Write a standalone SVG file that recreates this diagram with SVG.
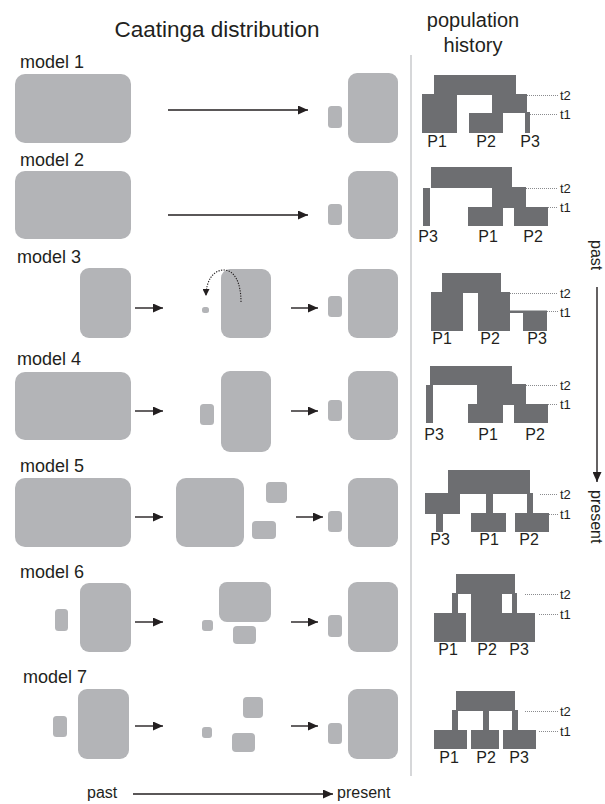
<svg xmlns="http://www.w3.org/2000/svg" width="605" height="804" viewBox="0 0 605 804">
<style>
text{font-family:"Liberation Sans",Arial,sans-serif;fill:#231f20}
.title{font-size:22.5px}
.lbl{font-size:18px}
.p{font-size:16px;text-anchor:middle}
.t{font-size:13px;dominant-baseline:central}
.big{fill:#b3b4b7}
.tr{fill:#6d6e71}
.ar{stroke:#231f20;stroke-width:1.4;fill:none}
.dot{stroke:#8a8b8e;stroke-width:1;stroke-dasharray:1 1;fill:none}
</style>
<defs>
<marker id="ah" markerWidth="10" markerHeight="9" refX="10" refY="4.5" orient="auto" markerUnits="userSpaceOnUse">
<path d="M0,0 L10,4.5 L0,9 Z" fill="#231f20"/>
</marker>
<marker id="ahs" markerWidth="7" markerHeight="7" refX="3.5" refY="7" orient="0" markerUnits="userSpaceOnUse">
<path d="M0,0 L7,0 L3.5,7 Z" fill="#231f20"/>
</marker>
</defs>

<text class="title" x="217" y="37" text-anchor="middle">Caatinga distribution</text>
<text class="title" x="473" y="27" text-anchor="middle" style="font-size:20px">population</text>
<text class="title" x="473" y="52" text-anchor="middle" style="font-size:20px">history</text>
<line x1="411" y1="55" x2="411" y2="776" stroke="#c9cacc" stroke-width="1.5"/>

<!-- model 1 -->
<g id="model1">
<text class="lbl" x="20" y="68">model 1</text>
<rect class="big" x="15" y="74" width="116" height="69" rx="10"/>
<rect class="big" x="328" y="106" width="14" height="22" rx="3.5"/>
<rect class="big" x="348" y="73" width="50" height="70" rx="9"/>
</g>
<!-- model 2 -->
<g id="model2">
<text class="lbl" x="20" y="166">model 2</text>
<rect class="big" x="15" y="171" width="116" height="68" rx="10"/>
<rect class="big" x="328" y="204" width="14" height="21" rx="3.5"/>
<rect class="big" x="348" y="171" width="50" height="68" rx="9"/>
</g>
<!-- model 3 -->
<g id="model3">
<text class="lbl" x="17" y="263">model 3</text>
<rect class="big" x="80" y="268" width="51" height="70" rx="9"/>
<rect class="big" x="202" y="307" width="7" height="6" rx="2.5"/>
<rect class="big" x="221" y="269" width="50" height="69" rx="9"/>
<rect class="big" x="328" y="296" width="14" height="21" rx="3.5"/>
<rect class="big" x="348" y="269" width="50" height="69" rx="9"/>
<path d="M241,302 C241,282 234,270 224,270 C213,270 206,281 206,296" stroke="#231f20" stroke-width="1.1" stroke-dasharray="1.3 1.3" fill="none" marker-end="url(#ahs)"/>
</g>
<!-- model 4 -->
<g id="model4">
<text class="lbl" x="17" y="365">model 4</text>
<rect class="big" x="15" y="372" width="116" height="68" rx="10"/>
<rect class="big" x="200" y="404" width="14" height="21" rx="3.5"/>
<rect class="big" x="221" y="371" width="50" height="81" rx="9"/>
<rect class="big" x="328" y="400" width="14" height="21" rx="3.5"/>
<rect class="big" x="348" y="371" width="50" height="69" rx="9"/>
</g>
<!-- model 5 -->
<g id="model5">
<text class="lbl" x="20" y="472">model 5</text>
<rect class="big" x="15" y="478" width="116" height="69" rx="10"/>
<rect class="big" x="176" y="478" width="68" height="69" rx="10"/>
<rect class="big" x="266" y="482" width="21" height="21" rx="4"/>
<rect class="big" x="252" y="521" width="24" height="18" rx="4"/>
<rect class="big" x="328" y="511" width="14" height="21" rx="3.5"/>
<rect class="big" x="348" y="478" width="50" height="69" rx="9"/>
</g>
<!-- model 6 -->
<g id="model6">
<text class="lbl" x="20" y="578">model 6</text>
<rect class="big" x="55" y="609" width="13" height="22" rx="3.5"/>
<rect class="big" x="80" y="583" width="51" height="69" rx="9"/>
<rect class="big" x="202" y="620" width="11" height="11" rx="3"/>
<rect class="big" x="219" y="582" width="52" height="40" rx="8"/>
<rect class="big" x="233" y="626" width="23" height="18" rx="4"/>
<rect class="big" x="328" y="615" width="14" height="22" rx="3.5"/>
<rect class="big" x="348" y="582" width="50" height="70" rx="9"/>
</g>
<!-- model 7 -->
<g id="model7">
<text class="lbl" x="23" y="683">model 7</text>
<rect class="big" x="53" y="716" width="14" height="21" rx="3.5"/>
<rect class="big" x="78" y="689" width="51" height="70" rx="9"/>
<rect class="big" x="202" y="727" width="10" height="11" rx="3"/>
<rect class="big" x="243" y="697" width="20" height="21" rx="4"/>
<rect class="big" x="232" y="733" width="23" height="19" rx="4"/>
<rect class="big" x="328" y="723" width="14" height="21" rx="3.5"/>
<rect class="big" x="348" y="689" width="50" height="70" rx="9"/>
</g>

<!-- population histories -->
<g id="tree1">
<rect class="tr" x="434" y="75" width="82" height="20"/>
<rect class="tr" x="422" y="94" width="35" height="39"/>
<rect class="tr" x="492" y="94" width="35" height="19"/>
<rect class="tr" x="469" y="113" width="34" height="20"/>
<rect class="tr" x="525" y="112" width="5" height="21"/>
<path class="dot" d="M527,95.5 H558 M530,114.5 H558"/>
<text class="t" x="560" y="95">t2</text><text class="t" x="560" y="114">t1</text>
<text class="p" x="437" y="147">P1</text><text class="p" x="486" y="147">P2</text><text class="p" x="530" y="147">P3</text>
</g>
<g id="tree2">
<rect class="tr" x="431" y="167" width="81" height="21"/>
<rect class="tr" x="423" y="188" width="7" height="38"/>
<rect class="tr" x="492" y="187" width="34" height="21"/>
<rect class="tr" x="468" y="207" width="35" height="19"/>
<rect class="tr" x="514" y="207" width="34" height="19"/>
<path class="dot" d="M526,188.5 H558 M548,207.5 H558"/>
<text class="t" x="560" y="188">t2</text><text class="t" x="560" y="207">t1</text>
<text class="p" x="428" y="242">P3</text><text class="p" x="488" y="242">P1</text><text class="p" x="533" y="242">P2</text>
</g>
<g id="tree3">
<rect class="tr" x="442" y="273" width="59" height="20"/>
<rect class="tr" x="431" y="292" width="32" height="39"/>
<rect class="tr" x="478" y="292" width="32" height="39"/>
<rect class="tr" x="509" y="310.5" width="38" height="2.5"/>
<rect class="tr" x="523" y="312" width="24" height="19"/>
<path class="dot" d="M510,293.5 H558 M547,311.5 H558"/>
<text class="t" x="560" y="293">t2</text><text class="t" x="560" y="312">t1</text>
<text class="p" x="442" y="344">P1</text><text class="p" x="490" y="344">P2</text><text class="p" x="537" y="344">P3</text>
</g>
<g id="tree4">
<rect class="tr" x="430" y="366" width="82" height="19"/>
<rect class="tr" x="426" y="385" width="7" height="38"/>
<rect class="tr" x="477" y="384" width="49" height="21"/>
<rect class="tr" x="468" y="404" width="35" height="19"/>
<rect class="tr" x="514" y="404" width="34" height="19"/>
<path class="dot" d="M526,385.5 H558 M548,404.5 H558"/>
<text class="t" x="560" y="385">t2</text><text class="t" x="560" y="404">t1</text>
<text class="p" x="434" y="440">P3</text><text class="p" x="488" y="440">P1</text><text class="p" x="535" y="440">P2</text>
</g>
<g id="tree5">
<rect class="tr" x="448" y="470" width="82" height="24"/>
<rect class="tr" x="425" y="493" width="35" height="21"/>
<rect class="tr" x="436" y="513" width="7" height="19"/>
<rect class="tr" x="486" y="493" width="7" height="21"/>
<rect class="tr" x="471" y="513" width="35" height="19"/>
<rect class="tr" x="527" y="493" width="6" height="21"/>
<rect class="tr" x="515" y="513" width="34" height="19"/>
<path class="dot" d="M540,494.5 H558 M549,514.5 H558"/>
<text class="t" x="560" y="494">t2</text><text class="t" x="560" y="514">t1</text>
<text class="p" x="440" y="545">P3</text><text class="p" x="489" y="545">P1</text><text class="p" x="529" y="545">P2</text>
</g>
<g id="tree6">
<rect class="tr" x="456" y="574" width="59" height="20"/>
<rect class="tr" x="452" y="593" width="6" height="21"/>
<rect class="tr" x="471" y="593" width="31" height="49"/>
<rect class="tr" x="512" y="593" width="5" height="21"/>
<rect class="tr" x="434" y="613" width="32" height="29"/>
<rect class="tr" x="502" y="613" width="33" height="29"/>
<path class="dot" d="M525,594.5 H558 M539,614.5 H558"/>
<text class="t" x="560" y="594">t2</text><text class="t" x="560" y="614">t1</text>
<text class="p" x="448" y="655">P1</text><text class="p" x="487" y="655">P2</text><text class="p" x="519" y="655">P3</text>
</g>
<g id="tree7">
<rect class="tr" x="456" y="691" width="59" height="20"/>
<rect class="tr" x="452" y="710" width="6" height="21"/>
<rect class="tr" x="483" y="710" width="6" height="21"/>
<rect class="tr" x="512" y="710" width="6" height="21"/>
<rect class="tr" x="434" y="730" width="33" height="19"/>
<rect class="tr" x="471" y="730" width="28" height="19"/>
<rect class="tr" x="503" y="730" width="33" height="19"/>
<path class="dot" d="M525,711.5 H558 M539,731.5 H558"/>
<text class="t" x="560" y="711">t2</text><text class="t" x="560" y="731">t1</text>
<text class="p" x="449" y="763">P1</text><text class="p" x="486" y="763">P2</text><text class="p" x="519" y="763">P3</text>
</g>

<!-- time axis (right) -->
<g id="axis-right">
<text x="591" y="240" style="font-size:16px" transform="rotate(90 591 240)">past</text>
<text x="591" y="490" style="font-size:16px" transform="rotate(90 591 490)">present</text>
</g>
<g id="axis-bottom">
<text x="87" y="798" style="font-size:16px">past</text>
<text x="337" y="798" style="font-size:16px">present</text>
</g>

<g id="connectors">
<line class="ar" x1="168" y1="110" x2="308" y2="110" marker-end="url(#ah)"/>
<line class="ar" x1="168" y1="215" x2="308" y2="215" marker-end="url(#ah)"/>
<line class="ar" x1="135" y1="308" x2="163" y2="308" marker-end="url(#ah)"/>
<line class="ar" x1="291" y1="308" x2="318" y2="308" marker-end="url(#ah)"/>
<line class="ar" x1="135" y1="411" x2="163" y2="411" marker-end="url(#ah)"/>
<line class="ar" x1="291" y1="411" x2="318" y2="411" marker-end="url(#ah)"/>
<line class="ar" x1="135" y1="517" x2="163" y2="517" marker-end="url(#ah)"/>
<line class="ar" x1="296" y1="517" x2="323" y2="517" marker-end="url(#ah)"/>
<line class="ar" x1="135" y1="622" x2="163" y2="622" marker-end="url(#ah)"/>
<line class="ar" x1="291" y1="622" x2="318" y2="622" marker-end="url(#ah)"/>
<line class="ar" x1="135" y1="726" x2="163" y2="726" marker-end="url(#ah)"/>
<line class="ar" x1="291" y1="726" x2="318" y2="726" marker-end="url(#ah)"/>
<line class="ar" x1="133" y1="794" x2="333" y2="794" stroke-width="1" marker-end="url(#ah)"/>
<line class="ar" x1="597" y1="287" x2="597" y2="482" stroke-width="1" marker-end="url(#ah)"/>
</g>
</svg>
